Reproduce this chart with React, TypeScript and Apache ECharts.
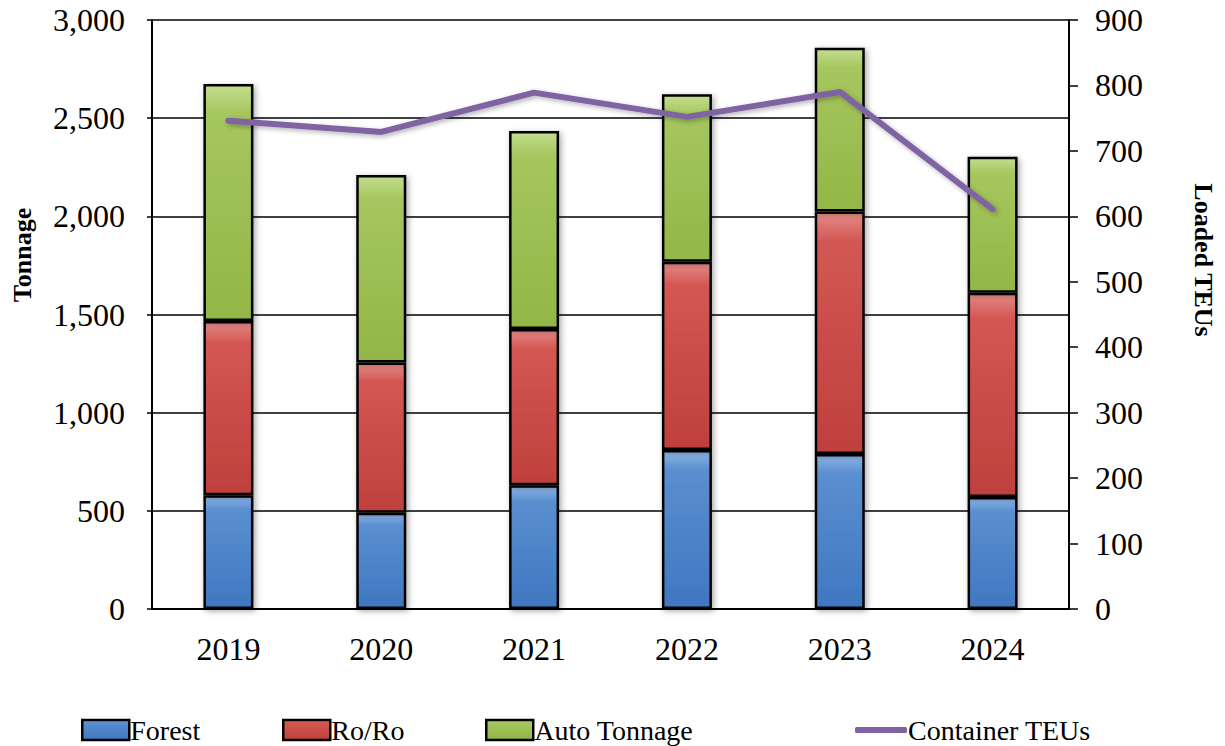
import React, { useEffect, useRef } from "react";
import * as echarts from "echarts";

// Yearly cargo volumes (tonnage, stacked) and loaded container TEUs
const years = ["2019", "2020", "2021", "2022", "2023", "2024"];
const forest = [580, 490, 630, 810, 790, 570];
const roro = [887, 765, 796, 959, 1234, 1041];
const autoTonnage = [1207, 956, 1009, 853, 835, 693];
const containerTeus = [746, 729, 789, 752, 790, 611];

const tonnageTicks = { min: 0, max: 3000, interval: 500 };
const teuTicks = { min: 0, max: 900, interval: 100 };

const FONT = "Liberation Serif, Times New Roman, serif";

function bevel(top: string, mid: string, bottom: string) {
  return new echarts.graphic.LinearGradient(0, 0, 0, 1, [
    { offset: 0, color: top },
    { offset: 0.12, color: mid },
    { offset: 1, color: bottom },
  ]);
}

const blueFill = bevel("#8db4e6", "#5a8fd0", "#3f77c0");
const redFill = bevel("#e38a87", "#d35753", "#bf403d");
const greenFill = bevel("#c3dd8e", "#a6c65e", "#93b647");

function barSeries(name: string, data: number[], fill: any) {
  return {
    name,
    type: "bar",
    stack: "tonnage",
    barWidth: 50,
    data,
    itemStyle: {
      color: fill,
      borderColor: "#000",
      borderWidth: 2.5,
      shadowColor: "rgba(0,0,0,0.35)",
      shadowBlur: 6,
      shadowOffsetX: 2,
      shadowOffsetY: 2,
    },
  };
}

export default function App() {
  const ref = useRef<HTMLDivElement>(null);

  useEffect(() => {
    if (!ref.current) return;
    const chart = echarts.init(ref.current, undefined, { renderer: "svg" });
    const legendText = { fontFamily: FONT, fontSize: 28, color: "#000", padding: [0, 0, 0, -4] };
    const boxLegend = (name: string, left: number) => ({
      data: [{ name, icon: "rect" }],
      left,
      top: 716,
      padding: 0,
      itemWidth: 47,
      itemHeight: 20,
      textStyle: legendText,
      itemStyle: { borderColor: "#000", borderWidth: 2.5 },
    });
    chart.setOption({
      animation: false,
      backgroundColor: "#fff",
      textStyle: { fontFamily: FONT },
      grid: { left: 152, right: 156, top: 20, bottom: 137 },
      legend: [
        boxLegend("Forest", 81),
        boxLegend("Ro/Ro", 282),
        boxLegend("Auto Tonnage", 485),
        {
          data: [{ name: "Container TEUs", icon: "roundRect" }],
          left: 855,
          top: 716,
          padding: 0,
          itemWidth: 52,
          itemHeight: 6,
          textStyle: legendText,
          itemStyle: { color: "#8064a2", borderWidth: 0 },
        },
      ],
      xAxis: {
        type: "category",
        data: years,
        axisLine: { lineStyle: { color: "#000", width: 2 } },
        axisTick: { show: false },
        axisLabel: { fontFamily: FONT, fontSize: 32, color: "#000", margin: 24 },
      },
      yAxis: [
        {
          type: "value",
          ...tonnageTicks,
          axisLine: { show: true, lineStyle: { color: "#000", width: 2 } },
          axisTick: { show: true, length: 5, lineStyle: { color: "#000", width: 1.5 } },
          splitLine: { show: true, lineStyle: { color: "#000", width: 1.5 } },
          axisLabel: {
            fontFamily: FONT,
            fontSize: 32,
            color: "#000",
            margin: 27,
            formatter: (v: number) => v.toLocaleString("en-US"),
          },
        },
        {
          type: "value",
          ...teuTicks,
          position: "right",
          axisLine: { show: true, lineStyle: { color: "#000", width: 2 } },
          axisTick: { show: true, length: 9, lineStyle: { color: "#000", width: 1.5 } },
          splitLine: { show: false },
          axisLabel: { fontFamily: FONT, fontSize: 32, color: "#000", margin: 26 },
        },
      ],
      series: [
        barSeries("Forest", forest, blueFill),
        barSeries("Ro/Ro", roro, redFill),
        barSeries("Auto Tonnage", autoTonnage, greenFill),
        {
          name: "Container TEUs",
          type: "line",
          yAxisIndex: 1,
          data: containerTeus,
          showSymbol: false,
          symbol: "none",
          lineStyle: {
            color: "#8064a2",
            width: 6,
            cap: "round",
            join: "round",
            shadowColor: "rgba(0,0,0,0.3)",
            shadowBlur: 5,
            shadowOffsetX: 2,
            shadowOffsetY: 2,
          },
          itemStyle: { color: "#8064a2" },
        },
      ],
      graphic: [
        {
          type: "text",
          x: 22,
          y: 255,
          rotation: Math.PI / 2,
          style: {
            text: "Tonnage",
            fontFamily: FONT,
            fontSize: 26,
            fontWeight: "bold",
            fill: "#000",
            align: "center",
            verticalAlign: "middle",
          },
        },
        {
          type: "text",
          x: 1203,
          y: 260,
          rotation: -Math.PI / 2,
          style: {
            text: "Loaded TEUs",
            fontFamily: FONT,
            fontSize: 26,
            fontWeight: "bold",
            fill: "#000",
            align: "center",
            verticalAlign: "middle",
          },
        },
      ],
    });
    return () => chart.dispose();
  }, []);

  return (
    <div
      ref={ref}
      style={{ position: "fixed", left: 0, top: 0, width: 1225, height: 746 }}
    />
  );
}
